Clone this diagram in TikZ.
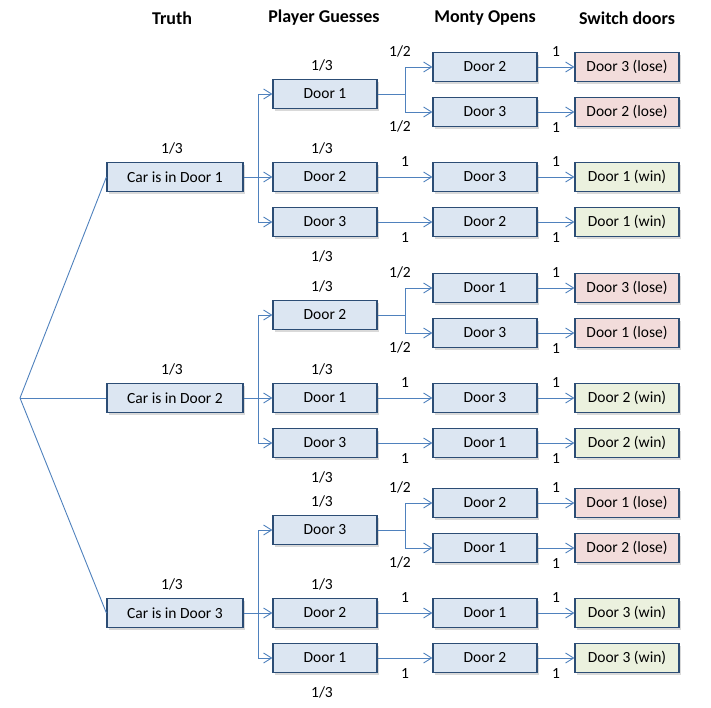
\documentclass[tikz,border=0pt]{standalone}
\usepackage{fontspec}
\setmainfont{Carlito}
\usepackage{tikz}
\usetikzlibrary{calc}
\usetikzlibrary{shadows}
\usetikzlibrary{arrows.meta}
\definecolor{boxline}{RGB}{44,77,117}
\definecolor{boxfill}{RGB}{220,230,242}
\definecolor{losefill}{RGB}{242,220,219}
\definecolor{winfill}{RGB}{235,241,222}
\definecolor{linkblue}{RGB}{79,129,189}
\tikzset{
every picture/.style={x=1pt, y=-1pt,
                       >={Straight Barb[length=8pt,width=10pt]}},
%%%%%%%%%%  Node styles
door/.style={draw=boxline, fill=boxfill, line width=1.2pt,
             minimum width=104pt, minimum height=29pt, inner sep=0pt,
             font=\fontsize{15.5}{18}\selectfont,
             drop shadow={shadow xshift=2pt, shadow yshift=-2pt,
                          opacity=0.3}},
truth/.style={door, minimum width=136pt},
lose/.style={door, fill=losefill},
win/.style={door, fill=winfill},
heading/.style={font=\bfseries\fontsize{18}{21}\selectfont},
prob/.style={font=\fontsize{15.5}{18}\selectfont, inner sep=0pt},
probup/.style={prob, xshift=-3pt, yshift=8pt},
probdown/.style={prob, xshift=-3pt, yshift=-13pt},
%%%% line styles
link/.style={draw=linkblue, line width=0.9pt}
}

\begin{document}
\begin{tikzpicture}
\useasboundingbox (0,0) rectangle (711,707);
\node[heading] (hTruth) at (172,18) {Truth};
\node[heading] (hGuess) at (324,18) {Player Guesses};
\node[heading] (hOpen) at (485,18) {Monty Opens};
\node[heading] (hSwitch) at (627,18) {Switch doors};
\coordinate (root) at (20,398);
\foreach \g/\y/\c/\a/\b in {1/177/1/2/3, 2/398/2/1/3, 3/613/3/2/1} {
  % truth
  \node[truth, label={[probup]above:1/3}] (truth\g) at (175,\y) {Car is in Door \c};
  \draw[link] (root) -- (truth\g.west);
  % player guesses
  \node[door, label={[probup]above:1/3}] (guessA\g) at (325,\y-83) {Door \c};
  \node[door, label={[probup]above:1/3}] (guessB\g) at (325,\y) {Door \a};
  \node[door, label={[probdown]below:1/3}] (guessC\g) at (325,\y+45) {Door \b};
  \coordinate (split\g) at (258,\y);
  \draw[link] (truth\g.east) -- (split\g);
  \draw[link,->] (split\g) |- (guessA\g);
  \draw[link,->] (split\g) -- (guessB\g);
  \draw[link,->] (split\g) |- (guessC\g);
  % monty opens
  \node[door] (openA\g) at (485,\y-110) {Door \a};
  \node[door] (openB\g) at (485,\y-65) {Door \b};
  \node[door] (openC\g) at (485,\y) {Door \b};
  \node[door] (openD\g) at (485,\y+45) {Door \a};
  \coordinate (fork\g) at (405,\y-83);
  \draw[link] (guessA\g) -- (fork\g);
  \draw[link,->] (fork\g) |- (openA\g) node[prob,pos=0.5,above=9pt,xshift=-5pt] {1/2};
  \draw[link,->] (fork\g) |- (openB\g) node[prob,pos=0.5,below=8pt,xshift=-5pt] {1/2};
  \draw[link,->] (guessB\g) -- (openC\g) node[prob,midway,above=10pt] {1};
  \draw[link,->] (guessC\g) -- (openD\g) node[prob,midway,below=10pt] {1};
  % switch doors
  \node[lose] (switchA\g) at (627,\y-110) {Door \b\ (lose)};
  \node[lose] (switchB\g) at (627,\y-65) {Door \a\ (lose)};
  \node[win] (switchC\g) at (627,\y) {Door \c\ (win)};
  \node[win] (switchD\g) at (627,\y+45) {Door \c\ (win)};
  \draw[link,->] (openA\g) -- (switchA\g) node[prob,midway,above=10pt] {1};
  \draw[link,->] (openB\g) -- (switchB\g) node[prob,midway,below=10pt] {1};
  \draw[link,->] (openC\g) -- (switchC\g) node[prob,midway,above=10pt] {1};
  \draw[link,->] (openD\g) -- (switchD\g) node[prob,midway,below=10pt] {1};
}
\end{tikzpicture}
\end{document}
